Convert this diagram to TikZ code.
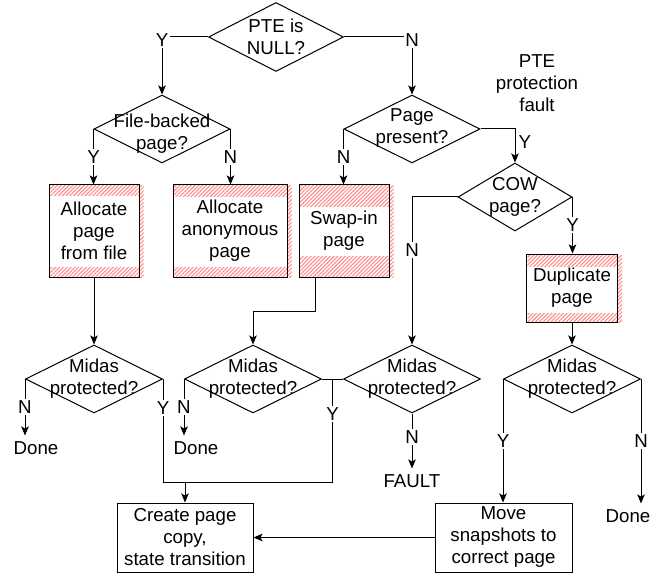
\documentclass[tikz,border=0pt]{standalone}
\usepackage{fontspec}
\setmainfont{Liberation Sans}
\usetikzlibrary{shapes.geometric,arrows.meta,patterns.meta,backgrounds,calc}
\definecolor{hatchred}{RGB}{255,140,140}
\newcommand\hatchbox[3]{%
  \begin{scope}[on background layer]
    \fill[pattern={Lines[angle=45,distance=2.7pt,line width=1.1pt]}, pattern color=hatchred]
      ($(#1.north west)+(1.5,1.5)$) rectangle ($(#1.south east)+(4,0)$);
    \fill[white] ($(#1.north west)+(1,#2)$) rectangle ($(#1.south east)+(-1,-#3)$);
  \end{scope}}
\begin{document}
\begin{tikzpicture}[x=1pt,y=-1pt,
  txt/.style={font=\fontsize{18.7}{22}\selectfont, align=center, inner sep=0pt},
  dia/.style={diamond, draw, line width=1pt, inner sep=0pt, minimum width=137pt, minimum height=68pt},
  box/.style={rectangle, draw, line width=1pt, inner sep=0pt, txt},
  yn/.style={txt, fill=white, inner sep=1.5pt},
  endtxt/.style={txt, outer ysep=6pt},
  ln/.style={line width=1pt},
  arr/.style={ln, -{Stealth[length=9pt,width=7.5pt,inset=2pt]}}]
\useasboundingbox (0,0) rectangle (662,575);

% decisions
\node[dia, minimum width=135pt, minimum height=69pt] (pte) at (276,37) {};
\node[txt] (pteT) at (pte) {PTE is\\NULL?};
\node[dia, minimum width=136pt] (fb) at (162,129) {};
\node[txt] (fbT) at (162,134) {File-backed\\page?};
\node[dia, minimum width=136pt] (pp) at (412,129) {};
\node[txt] (ppT) at (412,128) {Page\\present?};
\node[dia, minimum width=114pt] (cow) at (515,197) {};
\node[txt] (cowT) at (515,197) {COW\\page?};
\node[txt] (ptef) at (537,83) {PTE\\protection\\fault};

% action boxes
\node[box, minimum width=90pt, minimum height=92pt] (af) at (94,231) {Allocate\\page\\from file};
\node[box, minimum width=114pt, minimum height=92pt] (aa) at (230,231) {Allocate\\anonymous\\page};
\node[box, minimum width=90pt, minimum height=92pt] (sw) at (344,231) {Swap-in\\page};
\node[box, minimum width=91pt, minimum height=68pt] (du) at (572,288) {Duplicate\\page};
\hatchbox{af}{12}{11}
\hatchbox{aa}{13}{11}
\hatchbox{sw}{23}{22}
\hatchbox{du}{13}{10}

% midas decisions
\node[dia] (m1) at (94,379) {};
\node[txt] (m1T) at (m1) {Midas\\protected?};
\node[dia] (m2) at (253,379) {};
\node[txt] (m2T) at (m2) {Midas\\protected?};
\node[dia] (m3) at (412,379) {};
\node[txt] (m3T) at (m3) {Midas\\protected?};
\node[dia] (m4) at (572,379) {};
\node[txt] (m4T) at (m4) {Midas\\protected?};

% ends
\node[endtxt] (d1) at (36,448) {Done};
\node[endtxt] (d2) at (196,448) {Done};
\node[endtxt] (fault) at (412,481) {FAULT};
\node[endtxt] (d3) at (628,516) {Done};

\node[box, minimum width=136pt, minimum height=69pt] (cr) at (185,537.5) {Create page\\copy,\\state transition};
\node[box, minimum width=137pt, minimum height=69pt] (mv) at (503.5,537.5) {Move\\snapshots to\\correct page};

% connectors
\draw[arr] (pte.west) -| node[yn,pos=0.53]{Y} (fb.north);
\draw[arr] (pte.east) -| node[yn,pos=0.53]{N} (pp.north);
\draw[arr] (fb.west) -- node[yn]{Y} (fb.west |- af.north);
\draw[arr] (fb.east) -- node[yn]{N} (fb.east |- aa.north);
\draw[arr] (pp.west) -- node[yn]{N} (pp.west |- sw.north);
\draw[arr] (pp.east) -| node[txt,pos=0.7,right=3pt]{Y} (cow.north);
\draw[arr] (cow.west) -| node[yn,pos=0.68]{N} (m3.north);
\draw[arr] (cow.east) -- node[yn]{Y} (cow.east |- du.north);
\draw[arr] (af.south) -- (m1.north);
\path (sw.south west) ++(17,0) coordinate (swo);
\draw[arr] (swo) -- ++(0,34) -| (m2.north);
\draw[arr] (du.south) -- (m4.north);

\draw[arr] (m1.west) -- node[yn]{N} (m1.west |- d1.north);
\draw[arr] (m2.west) -- node[yn]{N} (m2.west |- d2.north);
\draw[arr] (m3.south) -- node[yn,pos=0.42]{N} (fault.north);
\draw[arr] (m4.west) -- node[yn]{Y} (m4.west |- mv.north);
\draw[arr] (m4.east) -- node[yn]{N} (m4.east |- d3.north);

\coordinate (bus) at (185,482);
\draw[arr] (m1.east) |- node[yn,pos=0.14]{Y} (bus) -- (cr.north);
\draw[ln] (m2.east) -- (m3.west);
\draw[ln] ($(m2.east)!0.5!(m3.west)$) |- node[yn,pos=0.17]{Y} (bus);
\draw[arr] (mv.west) -- (cr.east);
\end{tikzpicture}
\end{document}
